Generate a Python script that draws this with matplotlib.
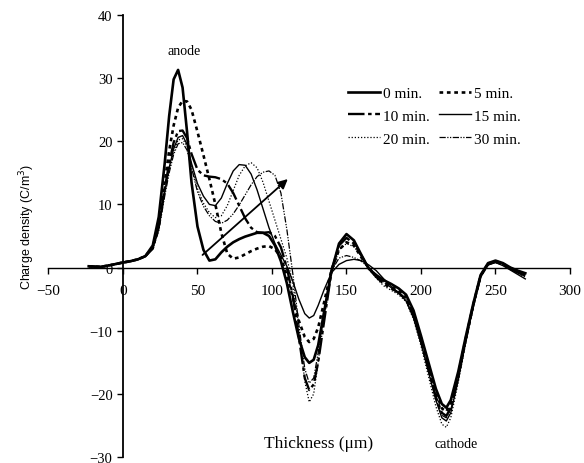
import matplotlib
matplotlib.use('Agg')
import matplotlib.pyplot as plt

# depth into the sample (um)
thickness = [-23, -15, -8, 0, 5, 10, 15, 20, 24, 28, 31, 34, 37, 40, 43, 46,
             50, 54, 58, 62, 66, 70, 74, 78, 82, 86, 90, 94, 98, 102, 106, 110,
             114, 118, 122, 125, 128, 131, 135, 140, 145, 150, 155, 160, 165, 170, 175, 180,
             185, 190, 195, 200, 205, 210, 214, 217, 220, 225, 230, 235, 240, 245, 250, 255,
             260, 265, 270]

# charge density (C/m3) after each poling time
q_0min = [0.2, 0.1, 0.4, 0.8, 1.0, 1.3, 1.8, 3.5, 8.0, 16.5, 24.0, 29.8, 31.3, 28.5, 21.5, 13.5,
          6.5, 2.8, 1.1, 1.3, 2.4, 3.3, 4.0, 4.5, 4.9, 5.2, 5.5, 5.5, 5.0, 3.5, 1.0, -2.5,
          -7.0, -11.2, -14.2, -15.1, -14.6, -12.3, -7.0, -0.5, 3.8, 5.3, 4.3, 2.0, -0.2, -1.2, -2.0, -2.6,
          -3.3, -4.3, -6.8, -10.8, -15.0, -19.2, -21.6, -22.2, -21.0, -16.5, -11.0, -5.8, -1.2, 0.7, 1.1, 0.7,
          0.0, -0.5, -0.9]
q_5min = [0.2, 0.1, 0.4, 0.8, 1.0, 1.3, 1.8, 3.2, 7.0, 13.5, 18.5, 22.5, 25.3, 26.4, 26.3, 25.0,
          21.5, 17.8, 14.0, 10.0, 5.5, 2.2, 1.4, 1.6, 2.1, 2.6, 3.0, 3.3, 3.4, 2.9, 1.6, -1.3,
          -4.8, -8.4, -11.0, -11.8, -11.3, -9.5, -5.5, -0.3, 2.8, 4.0, 3.5, 1.6, -0.1, -1.3, -2.3, -3.0,
          -3.7, -4.7, -7.2, -11.2, -15.5, -19.8, -22.3, -22.8, -21.5, -17.0, -11.3, -6.0, -1.3, 0.6, 1.0, 0.6,
          -0.1, -0.6, -1.1]
q_10min = [0.2, 0.1, 0.4, 0.8, 1.0, 1.3, 1.8, 3.0, 6.5, 12.5, 16.5, 19.8, 21.6, 21.7, 20.5, 18.0,
           15.5, 14.6, 14.4, 14.3, 14.0, 13.3, 11.8, 9.8, 7.8, 6.3, 5.6, 5.5, 5.6, 5.0, 3.2, 0.0,
           -4.5, -11.0, -17.5, -19.4, -18.5, -15.0, -8.5, -0.5, 3.5, 4.7, 3.8, 1.9, -0.2, -1.5, -2.6, -3.3,
           -4.0, -5.0, -7.5, -11.6, -16.0, -20.5, -23.0, -23.5, -22.2, -17.3, -11.5, -6.1, -1.4, 0.5, 0.9, 0.5,
           -0.2, -0.8, -1.3]
q_15min = [0.2, 0.1, 0.4, 0.8, 1.0, 1.3, 1.8, 3.0, 6.2, 12.0, 15.8, 18.8, 20.6, 20.9, 19.5, 16.5,
           13.3, 11.3, 10.0, 9.8, 11.0, 13.3, 15.3, 16.3, 16.2, 14.8, 12.3, 9.3, 6.3, 3.8, 2.0, 0.2,
           -2.2, -5.0, -7.3, -8.0, -7.6, -6.0, -3.5, -0.8, 0.5, 1.1, 1.3, 1.1, 0.4, -0.5, -1.8, -3.0,
           -4.0, -5.3, -8.0, -12.0, -16.5, -21.0, -23.8, -24.3, -23.0, -17.8, -11.8, -6.3, -1.5, 0.4, 0.8, 0.3,
           -0.4, -1.1, -1.8]
q_20min = [0.2, 0.1, 0.4, 0.8, 1.0, 1.3, 1.8, 3.0, 6.0, 11.7, 15.4, 18.4, 20.2, 20.4, 19.2, 16.2,
           12.5, 10.2, 8.7, 7.9, 8.2, 9.8, 12.2, 14.6, 16.1, 16.6, 15.8, 13.5, 10.5, 7.5, 4.5, 1.5,
           -2.5, -9.5, -18.0, -21.3, -20.0, -15.0, -8.0, -0.8, 2.8, 3.8, 3.3, 1.8, -0.1, -1.7, -2.9, -3.6,
           -4.3, -5.4, -8.2, -12.4, -17.2, -22.0, -24.8, -25.3, -23.8, -18.2, -12.0, -6.4, -1.6, 0.4, 0.8, 0.4,
           -0.3, -0.9, -1.5]
q_30min = [0.2, 0.1, 0.4, 0.8, 1.0, 1.3, 1.8, 3.0, 5.8, 11.3, 15.0, 17.9, 19.6, 19.8, 18.6, 15.8,
           12.0, 9.7, 8.2, 7.3, 7.0, 7.5, 8.5, 9.9, 11.5, 13.1, 14.4, 15.1, 15.3, 14.6, 11.8, 6.0,
           -1.0, -9.0, -16.0, -18.3, -17.5, -13.5, -7.0, -0.5, 1.5, 1.9, 1.6, 1.0, 0.0, -1.2, -2.3, -3.2,
           -4.1, -5.1, -7.8, -11.8, -16.2, -20.8, -23.4, -23.8, -22.5, -17.6, -11.7, -6.2, -1.4, 0.5, 0.9, 0.5,
           -0.2, -0.7, -1.2]

plt.rcParams['font.family'] = 'Liberation Serif'

fig = plt.figure(figsize=(5.84, 4.64), dpi=100)
ax = fig.add_axes([0.083, 0.013, 0.893, 0.9526])

l0, = ax.plot(thickness, q_0min, color='black', lw=1.9, label='0 min.')
l5, = ax.plot(thickness, q_5min, color='black', lw=1.9, dashes=(1.4, 1.4), label='5 min.')
l10, = ax.plot(thickness, q_10min, color='black', lw=1.7, dashes=(7, 1.5, 1.5, 1.5), label='10 min.')
l15, = ax.plot(thickness, q_15min, color='black', lw=1.0, label='15 min.')
l20, = ax.plot(thickness, q_20min, color='black', lw=0.9, dashes=(1, 1.5), label='20 min.')
l30, = ax.plot(thickness, q_30min, color='black', lw=0.9, dashes=(5, 1.2, 1, 1.2, 1, 1.2), label='30 min.')

ax.set_xlim(-50, 300)
ax.set_ylim(-30, 40)
ax.spines['left'].set_position(('data', 0))
ax.spines['bottom'].set_position(('data', 0))
ax.spines['top'].set_visible(False)
ax.spines['right'].set_visible(False)
ax.spines['left'].set_linewidth(1.3)
ax.spines['bottom'].set_linewidth(1.0)

ax.set_xticks(range(-50, 301, 50))
ax.set_yticks(range(-30, 41, 10))
ax.tick_params(axis='both', direction='out', length=4, width=1, labelsize=11)
ax.tick_params(axis='x', pad=8)
ax.tick_params(axis='y', labelsize=10.5)

ax.set_ylabel('Charge density (C/m$^3$)', family='Liberation Sans', fontsize=9)
ax.yaxis.set_label_coords(-0.022, 0.523)

ax.text(41, 34.3, 'anode', ha='center', va='center', fontsize=10)
ax.text(223.5, -27.8, 'cathode', ha='center', va='center', fontsize=10)
ax.text(131, -27.8, 'Thickness (μm)', ha='center', va='center', fontsize=12.5)

# drift of the positive charge packet with time
ax.annotate('', xy=(112, 14.3), xytext=(52, 1.7),
            arrowprops=dict(arrowstyle='-|>', color='black', lw=1.3, mutation_scale=14))

ax.legend(handles=[l0, l10, l20, l5, l15, l30], ncol=2, frameon=False,
          loc='upper left', bbox_to_anchor=(0.548, 0.87), fontsize=11,
          handlelength=2.1, handletextpad=0.2, columnspacing=0.6, labelspacing=0.6)

fig.savefig('out.png', dpi=100)
